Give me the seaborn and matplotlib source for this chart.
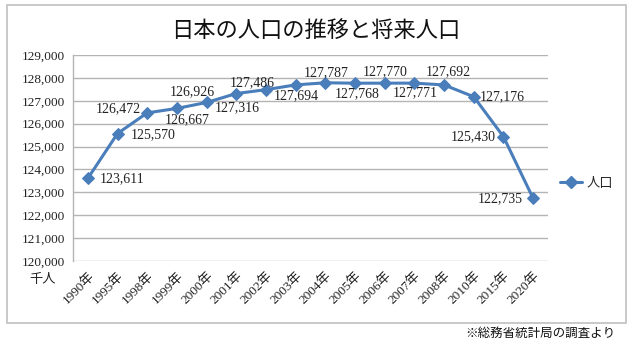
import matplotlib
matplotlib.use("Agg")
import matplotlib.pyplot as plt
import matplotlib.patches as mpatches
from matplotlib.lines import Line2D
import seaborn as sns
import pandas as pd

years = ["1990年", "1995年", "1998年", "1999年", "2000年", "2001年", "2002年", "2003年",
         "2004年", "2005年", "2006年", "2007年", "2008年", "2010年", "2015年", "2020年"]
population = [123611, 125570, 126472, 126667, 126926, 127316, 127486, 127694,
              127787, 127768, 127770, 127771, 127692, 127176, 125430, 122735]
yticks = list(range(120000, 129001, 1000))

# label placement (pixel offsets, horizontal alignment)
label_offsets = [(12, 0, "left"), (13, -1, "left"), (-6, 4, "right"), (10, -11, "center"),
                 (-14, 11, "center"), (1, -14, "center"), (-14, 7, "center"), (1, -11, "center"),
                 (1, 10, "center"), (2, -10, "center"), (0, 11, "center"), (1, -10, "center"),
                 (4, 13, "center"), (6, 0, "left"), (-8, 0, "right"), (-10, 0, "right")]

sns.set_style("white")
serif = ["Liberation Serif", "Noto Sans CJK JP"]
jp = ["Noto Sans CJK JP", "DejaVu Sans"]
plt.rcParams["font.family"] = serif

color = "#4a7ebb"
df = pd.DataFrame({"year": years, "pop": population})

fig = plt.figure(figsize=(6.4, 3.4), dpi=100)
ax = fig.add_axes([73 / 640, 1 - 261 / 340, (548 - 73) / 640, (261 - 55) / 340])

sns.lineplot(data=df, x="year", y="pop", sort=False, ax=ax, color=color, lw=2.2,
             marker="D", markersize=6.5, markeredgecolor=color, legend=False)

ax.set_xlim(-0.5, len(years) - 0.5)
ax.set_ylim(120000, 129000)
ax.set_yticks(yticks)
ax.set_yticklabels([f"{v:,}" for v in yticks], fontsize=9.5, color="#222222")
ax.set_xticks(range(len(years)))
ax.set_xticklabels(years, rotation=45, ha="right", rotation_mode="anchor", fontsize=9.5,
                   color="#222222")
ax.tick_params(axis="both", length=0, pad=6)
ax.set_xlabel("")
ax.set_ylabel("")
ax.yaxis.grid(True, color="#b4b4b4", lw=1)
ax.xaxis.grid(False)
for s in ["top", "right", "bottom"]:
    ax.spines[s].set_visible(False)
ax.spines["left"].set_color("#b4b4b4")
ax.spines["left"].set_linewidth(1)

for i, (v, (dx, dy, ha)) in enumerate(zip(population, label_offsets)):
    ax.annotate(f"{v:,}", (i, v), xytext=(dx, dy), textcoords="offset pixels",
                ha=ha, va="center", fontsize=10, color="#222222")

fig.text(43 / 640, 1 - 280 / 340, "千人", ha="center", va="center", fontsize=9.5,
         family=jp, color="#222222")

fig.text(316 / 640, 1 - 30 / 340, "日本の人口の推移と将来人口", ha="center", va="center",
         fontsize=16, family=jp, color="#111111")

fig.text(615 / 640, 1 - 333 / 340, "※総務省統計局の調査より", ha="right", va="center",
         fontsize=9, family=jp, color="#111111")

handle = Line2D([], [], color=color, lw=2.2, marker="D", markersize=6.5)
leg = fig.legend([handle], ["人口"], loc="center left", bbox_to_anchor=(556 / 640, 1 - 183 / 340),
                 frameon=False, prop={"family": jp, "size": 9.5}, handlelength=1.7,
                 handletextpad=0.3, borderaxespad=0, borderpad=0.3)

fig.patches.append(mpatches.Rectangle((7 / 640, 1 - 323 / 340), (626 - 7) / 640, (323 - 5) / 340,
                                      transform=fig.transFigure, fill=False,
                                      edgecolor="#c0c0c0", lw=1.2))

fig.savefig("out.png", dpi=100)
